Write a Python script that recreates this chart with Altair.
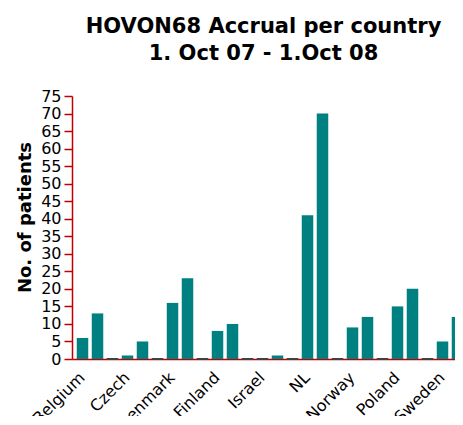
import altair as alt
import pandas as pd

countries = ["Belgium", "Czech", "Denmark", "Finland", "Israel",
             "NL", "Norway", "Poland", "Sweden"]
series_names = ["Series 1", "Series 2", "Series 3"]
series1 = [6, 1, 16, 8, 0, 41, 9, 15, 5]
series2 = [13, 5, 23, 10, 1, 70, 12, 20, 12]
series3 = [0, 0, 0, 0, 0, 0, 0, 0, 0]
y_ticks = list(range(0, 80, 5))

rows = []
for s, vals in zip(series_names, [series1, series2, series3]):
    for c, v in zip(countries, vals):
        rows.append({"country": c, "series": s, "patients": v})
df = pd.DataFrame(rows)

FONT = "DejaVu Sans"
RED = "#C00000"

chart = alt.Chart(df).mark_bar(color="#008080", strokeWidth=2).encode(
    x=alt.X(
        "country:N", sort=countries,
        scale=alt.Scale(range=[0, 411], paddingInner=0, paddingOuter=0.0667),
        axis=alt.Axis(
            title=None, labelAngle=315, labelAlign="right", labelBaseline="top",
            labelFontSize=16, labelFont=FONT, labelColor="black",
            labelPadding=10, labelOffset=-21, ticks=False,
            domainColor=RED, domainWidth=1.5, labelOverlap=False,
        ),
    ),
    xOffset=alt.XOffset("series:N", sort=series_names,
                        scale=alt.Scale(paddingInner=0.233, paddingOuter=0.117)),
    y=alt.Y(
        "patients:Q",
        scale=alt.Scale(domain=[0, 75], nice=False),
        axis=alt.Axis(
            values=y_ticks, grid=False, title="No. of patients",
            titleFont=FONT, titleFontSize=18, titleFontWeight="bold",
            titleColor="black", titleAngle=270, titleAlign="center",
            titleBaseline="alphabetic", titleX=-42, titleY=121,
            labelFont=FONT, labelFontSize=16, labelColor="black",
            labelPadding=3, tickSize=8, tickColor=RED, tickWidth=1.5,
            domainColor=RED, domainWidth=1.5,
        ),
    ),
    stroke=alt.condition("datum.patients == 0", alt.value("#404040"),
                         alt.value("transparent")),
).properties(
    width=383,
    height=263,
    title=alt.TitleParams(
        text=["HOVON68 Accrual per country", "1. Oct 07 - 1.Oct 08"],
        font=FONT, fontSize=21, fontWeight="bold", color="black",
        lineHeight=27, anchor="middle", offset=24,
    ),
    autosize=alt.AutoSizeParams(type="none"),
    padding={"left": 64, "top": 88, "right": 0, "bottom": 57},
).configure_view(stroke=None)

chart.save("out.html", embed_options={"renderer": "svg", "actions": False})
